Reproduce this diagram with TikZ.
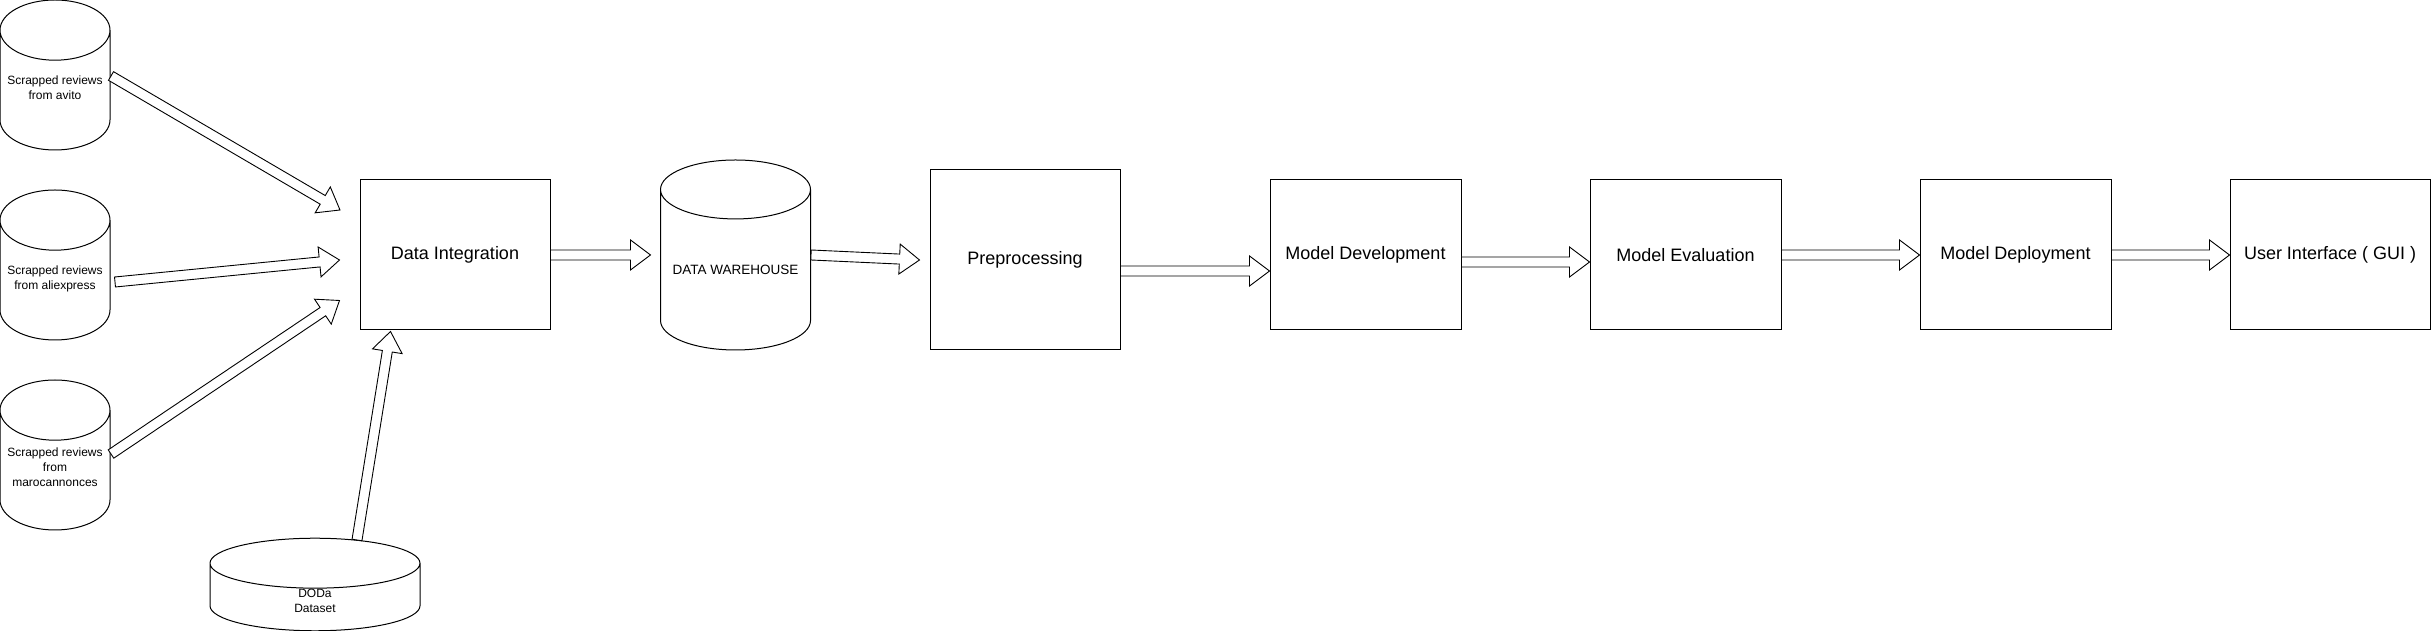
\documentclass[tikz,border=0pt]{standalone}
\usepackage{fontspec}
\setmainfont{Liberation Sans}
\usetikzlibrary{shapes.geometric,calc,positioning}
\tikzset{
node distance=130pt, % gap between two stages
stage/.style={draw, line width=1pt, minimum width=191pt, minimum height=150pt, font=\fontsize{18}{21.6}\selectfont},
store/.style={draw, cylinder, shape border rotate=90, aspect=0.59, line width=1pt, minimum width=110pt, minimum height=150pt, text depth=16pt, align=center, anchor=shape center, font=\fontsize{12}{15}\selectfont},
flex/.style={draw, line width=0.9pt, line join=miter, fill=white},
}
% hollow block arrow from #1 to #2
\newcommand{\flexarrow}[2]{%
  \path[flex] let \p1=($(#2)-(#1)$), \n1={atan2(\y1,\x1)}, \n2={veclen(\x1,\y1)-20} in
    ($(#1)+(\n1+90:5pt)$) -- ++(\n1:\n2) -- ++(\n1+90:10pt) -- (#2)
    -- ($(#1)+(\n1:\n2)+(\n1-90:15pt)$) -- ++(\n1+90:10pt) -- ($(#1)+(\n1-90:5pt)$) -- cycle;}

\begin{document}
\begin{tikzpicture}[x=1pt,y=1pt,on grid]
\useasboundingbox (0,0) rectangle (2431,631);
   \node[store] (avito) at (55,556) {Scrapped reviews\\from avito};
   \node[store] (ali) at (55,366) {Scrapped reviews\\from aliexpress};
   \node[store] (maroc) at (55,176) {Scrapped reviews\\from\\marocannonces};
   \node[store, minimum width=210pt, minimum height=89pt, aspect=1.04, inner ysep=0pt, text depth=0pt] (doda) at (315,46.5) {DODa\\Dataset};
   \node[stage, minimum width=190pt] (di) at (455,376) {Data Integration};
   \node[store, minimum width=150pt, minimum height=190pt, aspect=0.445, text depth=10pt, font=\fontsize{13.5}{16}\selectfont] (dw) at (735.5,376) {DATA WAREHOUSE};
   \node[stage, minimum width=190pt, minimum height=180pt] (pre) [below right=5pt and 570pt of di] {Preprocessing};
   \node[stage] (md) [above right=5pt and 340.5pt of pre] {Model Development};
   \node[stage] (me) [right=320pt of md] {Model Evaluation};
   \node[stage] (mdep) [right=330pt of me] {Model Deployment};
   \node[stage, minimum width=200pt] (ui) [right=314.5pt of mdep] {User Interface ( GUI )};
   % arrow ends
   \coordinate (s1) at ([shift={(56pt,-1pt)}]avito.shape center);
   \coordinate (s2) at ([shift={(60pt,-17pt)}]ali.shape center);
   \coordinate (s3) at ([shift={(56pt,1pt)}]maroc.shape center);
   \coordinate (s4) at ([shift={(42pt,44.5pt)}]doda.shape center);
   \coordinate (t1) at ([shift={(-19.5pt,45pt)}]di.west);
   \coordinate (t2) at ([shift={(-20pt,-5pt)}]di.west);
   \coordinate (t3) at ([shift={(-20pt,-45.5pt)}]di.west);
   \coordinate (t4) at ([shift={(-64.5pt,-1pt)}]di.south);
   \coordinate (w1) at ([xshift=75.5pt]dw.shape center);
   \coordinate (w2) at ([xshift=-85pt]dw.shape center);
   \coordinate (p1) at ([yshift=-11pt]pre.east);
   \coordinate (p2) at (md.west |- p1);
   \coordinate (m1) at ([yshift=-7pt]md.east);
   \coordinate (m2) at (me.west |- m1);
   \flexarrow{s1}{t1}
   \flexarrow{s2}{t2}
   \flexarrow{s3}{t3}
   \flexarrow{s4}{t4}
   \flexarrow{di.east}{w2}
   \flexarrow{w1}{[xshift=-10pt]pre.west}
   \flexarrow{p1}{p2}
   \flexarrow{m1}{m2}
   \flexarrow{me.east}{mdep.west}
   \flexarrow{mdep.east}{ui.west}
\end{tikzpicture}
\end{document}
